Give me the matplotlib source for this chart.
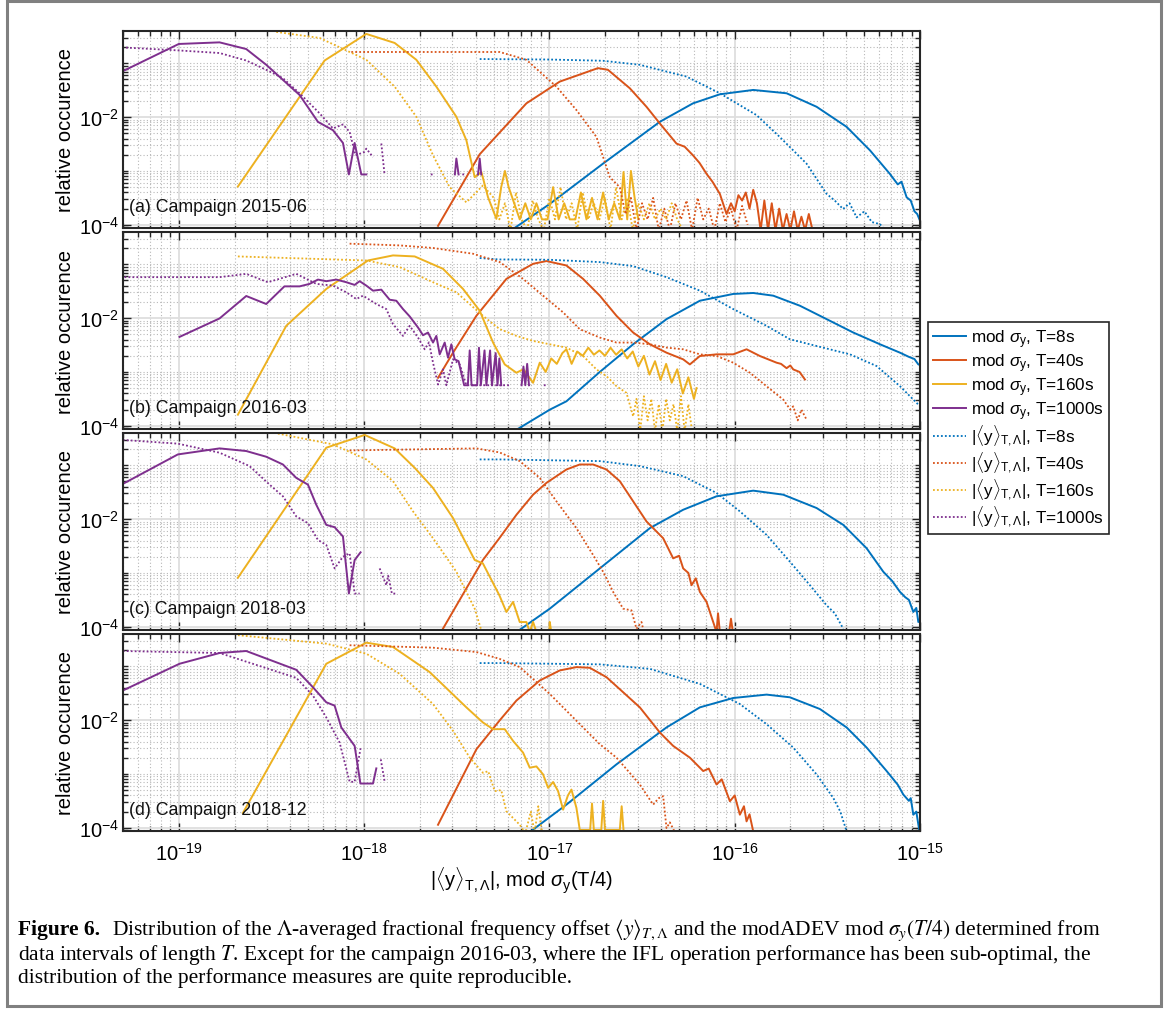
import numpy as np
import matplotlib
matplotlib.use("Agg")
import matplotlib.pyplot as plt
from matplotlib.ticker import FixedLocator, LogLocator, NullFormatter
from matplotlib.lines import Line2D
from matplotlib.patches import Rectangle

plt.rcParams['font.family'] = ['Liberation Sans', 'DejaVu Sans']
plt.rcParams['mathtext.fontset'] = 'custom'
plt.rcParams['mathtext.rm'] = 'Liberation Sans'
plt.rcParams['mathtext.it'] = 'Liberation Sans:italic'
plt.rcParams['mathtext.bf'] = 'Liberation Sans:bold'

# every curve: list of (log10 x, log10 y); nan = gap (zero counts)
nan = np.nan

# ---------------- (a) Campaign 2015-06 ----------------
a_ms8 = [(-17.205, -4.1), (-16.998, -3.613), (-16.711, -2.865), (-16.404, -2.087), (-16.225, -1.744),
         (-16.08, -1.576), (-15.9, -1.495), (-15.72, -1.557), (-15.558, -1.808), (-15.396, -2.181),
         (-15.27, -2.617), (-15.163, -3.053), (-15.12, -3.25), (-15.1, -3.2), (-15.072, -3.49),
         (-15.05, -3.55), (-15.03, -3.75), (-15.015, -3.8), (-15.0, -3.925)]
a_ms40 = [(-17.601, -4.02), (-17.376, -2.69), (-17.124, -1.744), (-16.944, -1.34), (-16.738, -1.09),
          (-16.684, -1.121), (-16.566, -1.464), (-16.476, -1.808), (-16.404, -2.118), (-16.314, -2.492),
          (-16.27, -2.55), (-16.225, -2.71), (-16.19, -2.85), (-16.152, -3.053), (-16.12, -3.2),
          (-16.08, -3.426), (-16.044, -3.8), (-16.02, -3.6), (-16.0, -3.75), (-15.98, -3.45),
          (-15.96, -3.55), (-15.94, -3.4), (-15.92, -3.7), (-15.9, -3.35), (-15.88, -3.6), (-15.86, -4.1),
          (-15.84, -3.55), (-15.82, -4.1), (-15.8, -3.6), (-15.78, -4.1), (-15.76, -3.7), (-15.74, -4.1),
          (-15.72, -3.8), (-15.7, -4.1), (-15.68, -3.75), (-15.66, -4.1), (-15.64, -3.85), (-15.62, -4.1),
          (-15.6, -3.8), (-15.58, -4.1)]
a_ms160 = [(-18.681, -3.29), (-18.213, -0.948), (-17.988, -0.454), (-17.835, -0.622), (-17.718, -0.935),
           (-17.61, -1.434), (-17.502, -1.994), (-17.448, -2.43), (-17.403, -3.116), (-17.367, -3.02),
           (-17.331, -3.49), (-17.286, -3.89), (-17.26, -3.3), (-17.24, -3.0), (-17.22, -3.3), (-17.19, -3.6),
           (-17.16, -3.9), (-17.13, -3.6), (-17.1, -3.9), (-17.07, -3.6), (-17.04, -3.9), (-17.01, -3.9),
           (-16.98, -3.3), (-16.95, -3.9), (-16.92, -3.6), (-16.89, -3.9), (-16.86, -3.9), (-16.83, -3.4),
           (-16.8, -3.9), (-16.77, -3.5), (-16.74, -3.9), (-16.71, -3.4), (-16.68, -3.9), (-16.65, -3.6),
           (-16.62, -3.9), (-16.6, -3.02), (-16.58, -3.9), (-16.56, -3.0), (-16.54, -3.5), (-16.52, -3.9)]
a_ms1000 = [(-19.306, -1.153), (-19.0, -0.641), (-18.78, -0.611), (-18.636, -0.735), (-18.528, -1.028),
            (-18.438, -1.308), (-18.348, -1.589), (-18.249, -2.088), (-18.168, -2.243), (-18.114, -2.48),
            (-18.082, -3.065), (-18.051, -2.48), (-18.015, -3.065), (-17.988, -3.065), (nan, nan),
            (-17.51, -3.065), (-17.502, -2.77), (-17.49, -3.065), (nan, nan),
            (-17.385, -3.065), (-17.376, -2.77), (-17.368, -3.065)]
a_ma8 = [(-17.376, -0.921), (-17.0, -0.93), (-16.711, -0.953), (-16.512, -1.028), (-16.26, -1.247),
         (-16.08, -1.557), (-15.882, -1.963), (-15.757, -2.368), (-15.612, -2.865), (-15.504, -3.426),
         (-15.46, -3.55), (-15.415, -3.707), (-15.38, -3.6), (-15.342, -3.863), (-15.3, -3.75),
         (-15.26, -3.95), (-15.216, -3.987), (-15.19, -4.1)]
a_ma40 = [(-18.069, -0.79), (-17.7, -0.79), (-17.268, -0.79), (-17.124, -0.935), (-16.962, -1.434),
          (-16.854, -1.869), (-16.746, -2.368), (-16.674, -3.116), (-16.62, -3.303), (-16.59, -3.8),
          (-16.56, -3.5), (-16.53, -4.1), (-16.5, -3.6), (-16.47, -3.9), (-16.44, -3.5), (-16.41, -4.1),
          (-16.38, -3.7), (-16.35, -4.1), (-16.32, -3.6), (-16.29, -3.9), (-16.26, -3.55), (-16.23, -4.1),
          (-16.2, -3.5), (-16.17, -3.9), (-16.14, -3.7), (-16.11, -4.1), (-16.08, -3.6), (-16.05, -3.95),
          (-16.02, -3.7), (-15.99, -4.1), (-15.96, -3.65), (-15.93, -4.0)]
a_ma160 = [(-18.474, -0.417), (-18.24, -0.529), (-17.988, -0.935), (-17.835, -1.434), (-17.718, -1.994),
           (-17.628, -2.71), (-17.538, -3.303), (-17.448, -3.583), (-17.359, -3.271), (-17.3, -3.5),
           (-17.27, -3.9), (-17.24, -3.6), (-17.21, -4.1), (-17.18, -3.4), (-17.15, -3.9), (-17.12, -4.1),
           (-17.09, -3.55), (-17.06, -3.9), (-17.03, -4.1), (-17.0, -3.5), (-16.97, -3.9), (-16.94, -3.3),
           (-16.91, -3.9), (-16.88, -3.6), (-16.85, -4.1), (-16.82, -3.4), (-16.79, -3.9), (-16.76, -3.6),
           (-16.73, -3.9), (-16.7, -3.5), (-16.67, -4.1), (-16.64, -3.3), (-16.61, -3.9), (-16.58, -3.5),
           (-16.55, -4.1), (-16.52, -3.6), (-16.49, -3.9), (-16.46, -3.6), (-16.43, -3.9), (-16.4, -3.7),
           (-16.37, -3.9), (-16.34, -3.6), (-16.31, -3.9), (-16.28, -4.1)]
a_ma1000 = [(-19.306, -0.705), (-19.0, -0.761), (-18.78, -0.809), (-18.636, -0.948), (-18.528, -1.121),
            (-18.438, -1.277), (-18.348, -1.557), (-18.24, -1.93), (-18.168, -2.21), (-18.114, -2.136),
            (-18.078, -2.274), (-18.046, -2.71), (-18.0, -2.65), (-17.988, -2.585), (-17.952, -2.742),
            (nan, nan), (-17.907, -2.49), (-17.89, -3.05), (nan, nan), (-17.64, -3.065), (-17.62, -3.065),
            (nan, nan), (-17.47, -3.065), (-17.45, -3.065)]

# ---------------- (b) Campaign 2016-03 ----------------
b_ms8 = [(-17.178, -4.075), (-16.998, -3.701), (-16.908, -3.545), (-16.728, -3.0), (-16.548, -2.486),
         (-16.368, -2.019), (-16.188, -1.677), (-16.008, -1.551), (-15.9, -1.533), (-15.792, -1.583),
         (-15.648, -1.77), (-15.504, -2.019), (-15.36, -2.268), (-15.216, -2.486), (-15.108, -2.642),
         (-15.06, -2.72), (-15.03, -2.76), (-15.009, -2.86), (-15.0, -2.87)]
b_ms40 = [(-17.601, -3.109), (-17.52, -2.642), (-17.394, -1.957), (-17.232, -1.271), (-17.088, -0.991),
          (-17.016, -0.94), (-16.908, -1.022), (-16.818, -1.271), (-16.728, -1.583), (-16.638, -1.957),
          (-16.548, -2.268), (-16.458, -2.486), (-16.368, -2.642), (-16.278, -2.766), (-16.242, -2.86),
          (-16.188, -2.704), (-16.098, -2.673), (-16.008, -2.673), (-15.936, -2.579), (-15.864, -2.704),
          (-15.774, -2.828), (-15.75, -2.85), (-15.72, -2.93), (-15.7, -2.88), (-15.684, -2.953),
          (-15.65, -3.0), (-15.621, -3.14)]
b_ms160 = [(-18.681, -3.794), (-18.42, -2.143), (-18.204, -1.458), (-17.979, -0.929), (-17.844, -0.835),
           (-17.727, -0.854), (-17.574, -1.084), (-17.466, -1.458), (-17.376, -1.863), (-17.304, -2.454),
           (-17.241, -2.86), (-17.178, -3.015), (-17.14, -2.95), (-17.088, -3.202), (-17.052, -2.828),
           (-17.02, -3.0), (-16.99, -2.75), (-16.96, -2.85), (-16.93, -2.65), (-16.908, -2.579),
           (-16.88, -2.85), (-16.85, -2.62), (-16.82, -2.7), (-16.79, -2.55), (-16.76, -2.68), (-16.73, -2.6),
           (-16.7, -2.7), (-16.67, -2.55), (-16.64, -2.68), (-16.61, -2.58), (-16.58, -2.75), (-16.55, -2.62),
           (-16.52, -2.9), (-16.49, -2.7), (-16.46, -3.05), (-16.43, -2.8), (-16.4, -3.15), (-16.37, -2.85),
           (-16.34, -3.2), (-16.31, -2.95), (-16.28, -3.4), (-16.25, -3.1), (-16.22, -3.5), (-16.206, -3.3)]
b_ms1000 = [(-18.996, -2.349), (-18.78, -2.006), (-18.636, -1.589), (-18.528, -1.738), (-18.43, -1.41),
            (-18.348, -1.41), (-18.294, -1.364), (-18.249, -1.284), (-18.204, -1.314), (-18.15, -1.284),
            (-18.096, -1.333), (-18.051, -1.383), (-18.024, -1.314), (-17.988, -1.396), (-17.952, -1.49),
            (-17.907, -1.471), (-17.862, -1.658), (-17.826, -1.677), (-17.79, -1.832), (-17.754, -1.968),
            (-17.709, -2.174), (-17.682, -2.318), (-17.655, -2.268), (-17.628, -2.454), (-17.61, -2.33),
            (-17.592, -2.673), (-17.565, -2.454), (-17.547, -2.735), (-17.529, -2.486), (-17.511, -2.766),
            (-17.49, -2.8), (-17.46, -3.247), (-17.44, -3.247), (-17.43, -2.6), (-17.42, -3.247),
            (-17.39, -3.247), (-17.38, -2.55), (-17.37, -3.247), (-17.35, -2.6), (-17.34, -3.247),
            (-17.32, -2.6), (-17.31, -3.247), (-17.29, -2.65), (-17.28, -3.247), (-17.27, -2.75),
            (-17.26, -3.247), (nan, nan), (-17.15, -3.247), (-17.14, -2.9), (-17.13, -3.247),
            (-17.12, -2.85), (-17.11, -3.247)]
b_ma8 = [(-17.376, -0.884), (-17.27, -0.91), (-16.998, -0.916), (-16.728, -0.959), (-16.548, -1.034),
         (-16.368, -1.239), (-16.188, -1.49), (-16.008, -1.832), (-15.828, -2.143), (-15.702, -2.393),
         (-15.558, -2.518), (-15.378, -2.673), (-15.234, -2.891), (-15.108, -3.265), (-15.009, -3.607)]
b_ma40 = [(-18.078, -0.617), (-17.808, -0.649), (-17.628, -0.697), (-17.412, -0.804), (-17.268, -0.959),
          (-17.142, -1.271), (-17.034, -1.583), (-16.926, -1.893), (-16.836, -2.206), (-16.728, -2.361),
          (-16.638, -2.454), (-16.548, -2.454), (-16.458, -2.486), (-16.368, -2.548), (-16.278, -2.579),
          (-16.188, -2.673), (-16.098, -2.704), (-16.008, -2.828), (-15.918, -3.015), (-15.828, -3.265),
          (-15.738, -3.514), (-15.7, -3.7), (-15.684, -3.639), (-15.66, -3.9), (-15.64, -3.7),
          (-15.612, -3.888)]
b_ma160 = [(-18.681, -0.854), (-17.988, -0.929), (-17.808, -1.052), (-17.628, -1.333), (-17.502, -1.52),
           (-17.359, -1.956), (-17.27, -2.2), (-17.178, -2.33), (-17.088, -2.424), (-16.998, -2.486),
           (-16.908, -2.548), (-16.818, -2.704), (-16.746, -2.953), (-16.692, -3.078), (-16.638, -3.265),
           (-16.584, -3.389), (-16.548, -3.826), (-16.53, -3.5), (-16.51, -4.1), (-16.49, -3.45),
           (-16.47, -3.9), (-16.45, -3.5), (-16.43, -4.1), (-16.41, -3.6), (-16.39, -4.1), (-16.37, -3.5),
           (-16.35, -3.9), (-16.33, -3.6), (-16.31, -4.1), (-16.29, -3.45), (-16.27, -4.1), (-16.25, -3.6),
           (-16.23, -4.1)]
b_ma1000 = [(-19.293, -1.239), (-18.78, -1.239), (-18.636, -1.178), (-18.519, -1.333), (-18.366, -1.178),
            (-18.258, -1.364), (-18.168, -1.396), (-18.096, -1.52), (-18.042, -1.645), (-18.006, -1.583),
            (-17.934, -1.738), (-17.88, -1.832), (-17.844, -2.112), (-17.79, -2.33), (-17.754, -2.143),
            (-17.709, -2.361), (-17.673, -2.579), (-17.65, -2.45), (-17.628, -2.828), (-17.601, -3.234),
            (-17.574, -2.953), (-17.556, -3.247), (-17.52, -2.766), (-17.484, -2.86), (-17.448, -3.247),
            (-17.35, -3.247), (-17.3, -3.247), (-17.214, -3.247), (nan, nan), (-17.03, -3.247),
            (-17.016, -3.247)]

# ---------------- (c) Campaign 2018-03 ----------------
c_ms8 = [(-17.178, -4.1), (-16.998, -3.664), (-16.728, -2.916), (-16.458, -2.168), (-16.278, -1.826),
         (-16.098, -1.576), (-15.9, -1.471), (-15.738, -1.546), (-15.558, -1.794), (-15.414, -2.107),
         (-15.288, -2.542), (-15.198, -2.978), (-15.15, -3.15), (-15.108, -3.352), (-15.08, -3.45),
         (-15.06, -3.5), (-15.036, -3.725), (-15.02, -3.65), (-15.009, -3.912), (-15.0, -3.85)]
c_ms40 = [(-17.583, -4.087), (-17.359, -2.76), (-17.27, -2.355), (-17.178, -1.92), (-17.088, -1.546),
          (-17.016, -1.327), (-16.908, -1.078), (-16.836, -0.985), (-16.764, -0.985), (-16.692, -1.078),
          (-16.62, -1.295), (-16.548, -1.669), (-16.476, -2.043), (-16.386, -2.355), (-16.332, -2.729),
          (-16.3, -2.68), (-16.278, -2.916), (-16.25, -3.0), (-16.233, -3.228), (-16.21, -3.1),
          (-16.188, -3.352), (-16.152, -3.538), (-16.116, -3.912), (-16.098, -4.1), (-16.09, -3.75),
          (-16.08, -4.1), (nan, nan), (-16.03, -4.1), (-16.02, -3.85), (-16.01, -4.1)]
c_ms160 = [(-18.681, -3.09), (-18.204, -0.673), (-17.997, -0.436), (-17.835, -0.686), (-17.727, -1.047),
           (-17.628, -1.421), (-17.52, -1.981), (-17.403, -2.76), (-17.359, -2.822), (-17.27, -3.415),
           (-17.232, -3.725), (-17.196, -3.538), (-17.16, -3.912), (-17.124, -3.912), (-17.106, -4.1),
           (-17.088, -3.91), (-17.07, -4.1), (nan, nan), (-17.0, -4.1), (-16.998, -3.91), (-16.99, -4.1)]
c_ms1000 = [(-19.302, -1.346), (-19.005, -0.798), (-18.78, -0.686), (-18.636, -0.735), (-18.528, -0.841),
            (-18.438, -0.985), (-18.366, -1.234), (-18.303, -1.359), (-18.258, -1.733), (-18.204, -2.107),
            (-18.159, -2.15), (-18.114, -2.323), (-18.082, -3.383), (-18.051, -2.76), (-18.019, -2.617)]
c_ma8 = [(-17.376, -0.891), (-17.27, -0.891), (-16.728, -0.922), (-16.512, -1.015), (-16.278, -1.202),
         (-16.098, -1.514), (-15.972, -1.856), (-15.828, -2.293), (-15.702, -2.791), (-15.594, -3.228),
         (-15.504, -3.602), (-15.46, -3.75), (-15.414, -4.037)]
c_ma40 = [(-18.078, -0.724), (-17.394, -0.686), (-17.27, -0.76), (-17.16, -0.922), (-17.052, -1.234),
          (-16.962, -1.669), (-16.854, -2.168), (-16.764, -2.667), (-16.71, -2.978), (-16.656, -3.352),
          (-16.602, -3.664), (-16.557, -3.695), (-16.53, -4.037), (-16.503, -3.912), (-16.49, -4.1)]
c_ma160 = [(-18.465, -0.411), (-18.168, -0.611), (-17.988, -0.891), (-17.844, -1.295), (-17.736, -1.856),
           (-17.628, -2.355), (-17.502, -2.978), (-17.403, -3.664), (-17.367, -4.069), (-17.35, -4.2)]
c_ma1000 = [(-19.302, -0.529), (-19.005, -0.598), (-18.78, -0.766), (-18.618, -1.015), (-18.51, -1.359),
            (-18.438, -1.576), (-18.366, -1.95), (-18.303, -2.075), (-18.249, -2.387), (-18.204, -2.48),
            (-18.159, -2.916), (-18.114, -2.698), (-18.078, -2.636), (-18.051, -3.383), (-18.024, -3.383),
            (nan, nan), (-17.916, -2.916), (-17.88, -3.228), (-17.87, -3.05), (-17.85, -3.383),
            (-17.826, -3.383)]

# ---------------- (d) Campaign 2018-12 ----------------
d_ms8 = [(-17.106, -4.08), (-16.908, -3.57), (-16.638, -2.822), (-16.368, -2.136), (-16.188, -1.763),
         (-16.008, -1.589), (-15.828, -1.526), (-15.702, -1.576), (-15.54, -1.794), (-15.396, -2.136),
         (-15.288, -2.51), (-15.18, -2.946), (-15.12, -3.2), (-15.09, -3.383), (-15.06, -3.5),
         (-15.05, -3.45), (-15.036, -3.757), (-15.02, -3.7), (-15.003, -4.067)]
d_ms40 = [(-17.601, -3.944), (-17.394, -2.542), (-17.27, -2.012), (-17.178, -1.637), (-17.052, -1.264),
          (-16.944, -1.077), (-16.854, -1.015), (-16.782, -1.028), (-16.692, -1.202), (-16.602, -1.482),
          (-16.512, -1.763), (-16.404, -2.23), (-16.332, -2.479), (-16.242, -2.697), (-16.17, -2.946),
          (-16.14, -2.9), (-16.098, -3.196), (-16.07, -3.1), (-16.026, -3.507), (-16.0, -3.4),
          (-15.972, -3.757), (-15.95, -3.6), (-15.936, -3.881), (-15.92, -3.75), (-15.9, -4.067)]
d_ms160 = [(-18.654, -3.725), (-18.204, -0.953), (-17.988, -0.561), (-17.844, -0.641), (-17.646, -1.108),
           (-17.448, -1.763), (-17.359, -2.043), (-17.304, -2.168), (-17.241, -2.168), (-17.196, -2.386),
           (-17.142, -2.604), (-17.106, -2.884), (-17.07, -2.86), (-17.034, -3.009), (-17.007, -3.258),
           (-16.98, -3.15), (-16.953, -3.32), (-16.926, -3.664), (-16.9, -3.4), (-16.881, -3.29),
           (-16.854, -3.632), (-16.836, -4.04), (-16.78, -4.04), (-16.77, -3.55), (-16.76, -4.04),
           (-16.72, -4.04), (-16.71, -3.5), (-16.7, -4.04), (-16.62, -4.04), (-16.61, -3.6), (-16.6, -4.04)]
d_ms1000 = [(-19.302, -1.45), (-18.996, -0.953), (-18.78, -0.753), (-18.636, -0.716), (-18.366, -1.065),
            (-18.276, -1.389), (-18.204, -1.669), (-18.159, -1.731), (-18.123, -2.136), (-18.051, -2.479),
            (-18.02, -3.178), (-17.952, -3.178), (-17.934, -2.897)]
d_ma8 = [(-17.376, -0.94), (-17.27, -0.94), (-16.728, -0.964), (-16.458, -1.047), (-16.188, -1.327),
         (-15.972, -1.701), (-15.828, -2.075), (-15.684, -2.51), (-15.558, -3.009), (-15.468, -3.445),
         (-15.43, -3.7), (-15.396, -4.067)]
d_ma40 = [(-18.078, -0.609), (-17.628, -0.654), (-17.394, -0.735), (-17.27, -0.86), (-17.16, -1.015),
          (-16.998, -1.514), (-16.854, -2.012), (-16.728, -2.448), (-16.638, -2.697), (-16.512, -3.196),
          (-16.44, -3.57), (-16.41, -3.45), (-16.386, -3.413), (-16.368, -4.006), (-16.35, -3.9),
          (-16.32, -4.1)]
d_ma160 = [(-18.681, -0.422), (-18.204, -0.579), (-17.988, -0.766), (-17.808, -1.14), (-17.628, -1.701),
           (-17.52, -2.199), (-17.43, -2.697), (-17.359, -2.978), (-17.33, -2.95), (-17.295, -3.32),
           (-17.26, -3.3), (-17.232, -3.694), (-17.16, -3.944), (-17.13, -4.1), (-17.1, -3.7),
           (-17.08, -4.1), (-17.06, -3.6), (-17.04, -4.1)]
d_ma1000 = [(-19.302, -0.716), (-18.78, -0.753), (-18.366, -1.215), (-18.276, -1.544), (-18.204, -1.95),
            (-18.132, -2.417), (-18.078, -3.146), (-18.051, -3.146), (-18.019, -2.523), (nan, nan),
            (-17.91, -2.729), (-17.888, -3.165)]

panel_titles = ['(a) Campaign 2015-06', '(b) Campaign 2016-03',
                '(c) Campaign 2018-03', '(d) Campaign 2018-12']
panels = [
    [a_ms8, a_ms40, a_ms160, a_ms1000, a_ma8, a_ma40, a_ma160, a_ma1000],
    [b_ms8, b_ms40, b_ms160, b_ms1000, b_ma8, b_ma40, b_ma160, b_ma1000],
    [c_ms8, c_ms40, c_ms160, c_ms1000, c_ma8, c_ma40, c_ma160, c_ma1000],
    [d_ms8, d_ms40, d_ms160, d_ms1000, d_ma8, d_ma40, d_ma160, d_ma1000],
]
T_labels = ['8', '40', '160', '1000']
colors = ['#0072BD', '#D95319', '#EDB120', '#7E2F8E']
xticks = [1e-19, 1e-18, 1e-17, 1e-16, 1e-15]
xticklabels = [r'$10^{-19}$', r'$10^{-18}$', r'$10^{-17}$', r'$10^{-16}$', r'$10^{-15}$']
yticks = [1e-4, 1e-2]
yticklabels = [r'$10^{-4}$', r'$10^{-2}$']

W, H = 1174, 1012
fig = plt.figure(figsize=(W / 100, H / 100), dpi=100)

ax_left, ax_right = 123, 920
tops = [32, 233, 434, 635]
ax_h = 197
minor_y = [k * 10.0 ** e for e in range(-5, 0) for k in range(1, 10) if not (k == 1 and e in (-4, -2))]

axes = []
for i, top in enumerate(tops):
    ax = fig.add_axes([ax_left / W, 1 - (top + ax_h) / H, (ax_right - ax_left) / W, ax_h / H])
    axes.append(ax)
    curves = panels[i]
    for j, pts in enumerate(curves):
        arr = np.array(pts, dtype=float)
        solid = j < 4
        ax.plot(10 ** arr[:, 0], 10 ** arr[:, 1], color=colors[j % 4],
                ls='-' if solid else (0, (1, 1.2)), lw=1.4 if solid else 1.3)
    ax.set_xscale('log')
    ax.set_yscale('log')
    ax.set_xlim(5e-20, 1e-15)
    ax.set_ylim(10 ** -4.06, 10 ** -0.40)
    ax.xaxis.set_major_locator(FixedLocator(xticks))
    ax.xaxis.set_minor_locator(LogLocator(base=10, subs=np.arange(2, 10), numticks=50))
    ax.xaxis.set_minor_formatter(NullFormatter())
    ax.yaxis.set_major_locator(FixedLocator(yticks))
    ax.yaxis.set_minor_locator(FixedLocator(minor_y))
    ax.yaxis.set_minor_formatter(NullFormatter())
    ax.set_yticklabels(yticklabels, fontsize=14.5)
    if i == 3:
        ax.set_xticklabels(xticklabels, fontsize=14.5)
    else:
        ax.set_xticklabels([])
    ax.grid(True, which='major', color='#dedede', lw=1.3, ls='-')
    ax.grid(True, which='minor', color='#b8b8b8', lw=0.8, ls=(0, (1, 2)))
    ax.set_axisbelow(True)
    ax.tick_params(which='both', direction='in', top=True, right=True, color='#262626', width=1.0)
    ax.tick_params(which='major', length=6, pad=3)
    ax.tick_params(which='minor', length=3.5)
    ax.tick_params(axis='x', which='major', pad=8)
    for s in ax.spines.values():
        s.set_linewidth(1.5)
        s.set_color('#262626')
    ax.text(0.007, 0.11, panel_titles[i], transform=ax.transAxes, fontsize=12.8,
            ha='left', va='center', color='#111111')
    fig.text(65.5 / W, 1 - (top + ax_h / 2) / H, 'relative occurence', rotation=90,
             ha='center', va='center', fontsize=14.5)

fig.text((ax_left + ax_right) / 2 / W, 1 - 881 / H,
         r'$|\langle\mathrm{y}\rangle_{\mathrm{T},\Lambda}|$, mod $\sigma_\mathrm{y}$(T/4)',
         ha='center', va='center', fontsize=14.5)

handles, labels = [], []
for j in range(4):
    handles.append(Line2D([], [], color=colors[j], lw=1.4))
    labels.append(r'mod $\sigma_\mathrm{y}$, T=' + T_labels[j] + 's')
for j in range(4):
    handles.append(Line2D([], [], color=colors[j], lw=1.3, ls=(0, (1, 1.2))))
    labels.append(r'$|\langle\mathrm{y}\rangle_{\mathrm{T},\Lambda}|$, T=' + T_labels[j] + 's')
leg = fig.legend(handles, labels, loc='upper left', bbox_to_anchor=(928 / W, 1 - 323 / H),
                 fontsize=12.3, frameon=True, fancybox=False, edgecolor='#262626', framealpha=1,
                 borderaxespad=0, handlelength=1.9, handletextpad=0.3, labelspacing=0.08,
                 borderpad=0.3)
leg.get_frame().set_linewidth(1.2)

# caption
cap_fs = 15.5
cap_y = [930, 955, 978]
fig.canvas.draw()
renderer = fig.canvas.get_renderer()
t0 = fig.text(18 / W, 1 - cap_y[0] / H, 'Figure 6.', fontsize=cap_fs, fontweight='bold',
              family='Liberation Serif', va='center', ha='left')
bb = t0.get_window_extent(renderer)
fig.text((bb.x1 + 12) / W, 1 - cap_y[0] / H,
         r'Distribution of the $\Lambda$-averaged fractional frequency offset $\langle y\rangle_{T,\Lambda}$ '
         r'and the modADEV mod $\sigma_y(T/4)$ determined from',
         fontsize=cap_fs, family='Liberation Serif', math_fontfamily='stix', va='center', ha='left')
fig.text(18 / W, 1 - cap_y[1] / H,
         r'data intervals of length $T$. Except for the campaign 2016-03, where the IFL operation '
         r'performance has been sub-optimal, the',
         fontsize=cap_fs, family='Liberation Serif', math_fontfamily='stix', va='center', ha='left')
fig.text(18 / W, 1 - cap_y[2] / H,
         'distribution of the performance measures are quite reproducible.',
         fontsize=cap_fs, family='Liberation Serif', va='center', ha='left')

fig.patches.append(Rectangle((7 / W, 1 - 1007 / H), 1154 / W, 1005 / H, transform=fig.transFigure,
                             fill=False, edgecolor='#808080', lw=2.2))

fig.savefig('out.png', dpi=100)
